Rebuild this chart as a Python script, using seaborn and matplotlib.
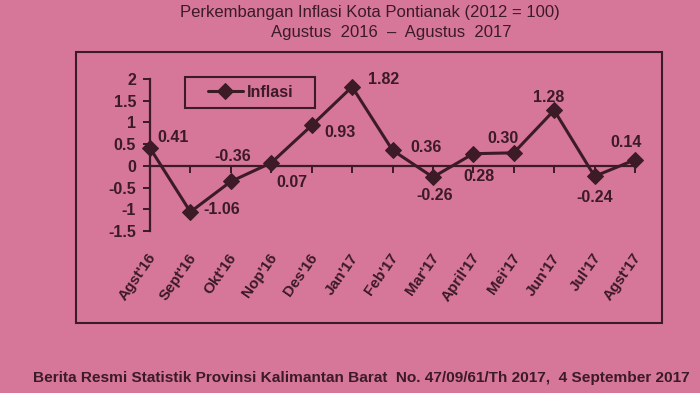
import matplotlib
matplotlib.use("Agg")
import matplotlib.pyplot as plt
import seaborn as sns
import pandas as pd
from matplotlib.patches import Rectangle
from matplotlib.lines import Line2D
from matplotlib.legend_handler import HandlerLine2D

months = ["Agst'16", "Sept'16", "Okt'16", "Nop'16", "Des'16", "Jan'17", "Feb'17",
          "Mar'17", "April'17", "Mei'17", "Jun'17", "Jul'17", "Agst'17"]
inflasi = [0.41, -1.06, -0.36, 0.07, 0.93, 1.82, 0.36, -0.26, 0.28, 0.30, 1.28, -0.24, 0.14]
value_labels = ["0.41", "-1.06", "-0.36", "0.07", "0.93", "1.82", "0.36", "-0.26",
                "0.28", "0.30", "1.28", "-0.24", "0.14"]
y_ticks = [-1.5, -1, -0.5, 0, 0.5, 1, 1.5, 2]
y_tick_labels = ["-1.5", "-1", "-0.5", "0", "0.5", "1", "1.5", "2"]

BG = "#d6779a"
INK = "#3c1a26"

sns.set_theme(style="white")
plt.rcParams["font.family"] = ["Liberation Sans", "DejaVu Sans"]

fig = plt.figure(figsize=(7.0, 3.93), dpi=100, facecolor=BG)
W, H = 700, 393
ax = fig.add_axes([150 / W, 1 - 231 / H, (635 - 150) / W, (231 - 79) / H])
ax.set_facecolor(BG)

df = pd.DataFrame({"pos": list(range(len(months))), "Inflasi": inflasi})
sns.lineplot(data=df, x="pos", y="Inflasi", ax=ax, color=INK, linewidth=2.2,
             marker="D", markersize=8, markeredgecolor=INK, markerfacecolor=INK,
             label="Inflasi", clip_on=False, zorder=5)

ax.set_xlim(0, len(months) - 1)
ax.set_ylim(-1.5, 2)
ax.set_xlabel("")
ax.set_ylabel("")

for s in ["top", "right"]:
    ax.spines[s].set_visible(False)
ax.spines["left"].set_color(INK)
ax.spines["left"].set_linewidth(1.6)
ax.spines["bottom"].set_position(("data", 0))
ax.spines["bottom"].set_color(INK)
ax.spines["bottom"].set_linewidth(1.6)

ax.set_yticks(y_ticks)
ax.set_yticklabels(y_tick_labels)
ax.set_xticks(range(len(months)))
ax.set_xticklabels([])
ax.tick_params(axis="y", direction="out", length=5, width=1.4, color=INK,
               labelsize=11.5, labelcolor=INK, pad=5, left=True)
ax.tick_params(axis="x", direction="out", length=5, width=1.4, color=INK, bottom=True)
for t in ax.get_yticklabels():
    t.set_fontweight("bold")

# month labels under the plot
for i, m in enumerate(months):
    ax.annotate(m, xy=(i, -1.5), xycoords="data", xytext=(3, -24),
                textcoords="offset pixels", rotation=55, rotation_mode="anchor",
                ha="right", va="center", fontsize=11, fontweight="bold", color=INK,
                annotation_clip=False)

# data labels (offsets in pixels: dx, dy, ha)
offsets = [(7, 11, "left"), (13, 2, "left"), (2, 25, "center"), (5, -20, "left"),
           (13, -7, "left"), (16, 7, "left"), (18, 3, "left"), (2, -18, "center"),
           (6, -23, "center"), (-11, 14, "center"), (-6, 13, "center"),
           (0, -21, "center"), (-9, 17, "center")]
for i, (v, lab) in enumerate(zip(inflasi, value_labels)):
    dx, dy, ha = offsets[i]
    ax.annotate(lab, xy=(i, v), xytext=(dx, dy), textcoords="offset pixels",
                ha=ha, va="center", fontsize=11.5, fontweight="bold", color=INK,
                annotation_clip=False, zorder=6)

leg = ax.legend(loc="upper left", mode="expand",
                bbox_to_anchor=(185 / W, 1 - 110 / H, 130 / W, 33 / H),
                bbox_transform=fig.transFigure, frameon=True, fancybox=False,
                edgecolor=INK, facecolor=BG, framealpha=1, handlelength=3.1,
                handletextpad=0.3, borderpad=0.5, borderaxespad=0,
                handler_map={Line2D: HandlerLine2D(xpad=0.95)},
                prop={"weight": "bold", "size": 11.5})
leg.get_frame().set_linewidth(1.5)
for t in leg.get_texts():
    t.set_color(INK)

# outer frame
fig.patches.append(Rectangle((76 / W, 1 - 323 / H), (662 - 76) / W, (323 - 52) / H,
                             transform=fig.transFigure, fill=False, edgecolor=INK,
                             linewidth=1.5, zorder=0))

fig.text(370 / W, 1 - 12 / H, "Perkembangan Inflasi Kota Pontianak (2012 = 100)",
         ha="center", va="center", fontsize=12, color=INK)
fig.text(391 / W, 1 - 32 / H, "Agustus  2016  \u2013  Agustus  2017",
         ha="center", va="center", fontsize=12, color=INK)
fig.text(361 / W, 1 - 378 / H,
         "Berita Resmi Statistik Provinsi Kalimantan Barat  No. 47/09/61/Th 2017,  4 September 2017",
         ha="center", va="center", fontsize=11.1, fontweight="bold", color=INK)

fig.savefig("out.png", dpi=100, facecolor=BG)
